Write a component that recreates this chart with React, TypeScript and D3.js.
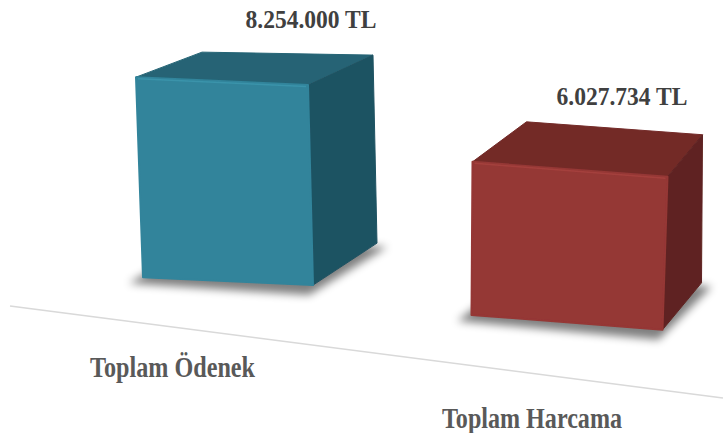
import React from "react";
import * as d3 from "d3";

const categories = ["Toplam Ödenek", "Toplam Harcama"];
const values = [8254000, 6027734];
const valueLabels = ["8.254.000 TL", "6.027.734 TL"];

const W = 723;
const H = 433;

// layout (positions/styles only)
const boxLayout = [
  { w: 170, k: 1.0, lift: 53, labelGap: 24, lean: [-7, -5], dTL: [66, -25], dTR: [65, -30], dBR: [64, -42], bs: 0.047,
    front: "#31849b", top: "#256475", side: "#1f5262", edge: "#3d97ae" },
  { w: 191, k: 1.048, lift: 55.5, labelGap: 17, lean: [1, 5], dTL: [54, -40], dTR: [35, -42], dBR: [39, -47], bs: 0.078,
    front: "#953735", top: "#732a28", side: "#5f2321", edge: "#a8433f" },
];

const floorY = (x: number) => 306 + (x - 10) * 0.129;

export default function App() {
  const xBox = d3.scalePoint<string>().domain(categories).range([228, 567]);
  const xLabel = d3.scalePoint<string>().domain(categories).range([172.5, 532]);
  const xValue = d3.scalePoint<string>().domain(categories).range([311, 622]);
  const yH = d3.scaleLinear().domain([0, d3.max(values) as number]).range([0, 200]);

  const fmt = (p: number[][]) => p.map((q) => q.join(",")).join(" ");

  return (
    <svg width={W} height={H} style={{ display: "block", position: "absolute", left: 0, top: 0 }}>
      <defs>
        <filter id="shadow" x="-30%" y="-30%" width="160%" height="160%">
          <feGaussianBlur stdDeviation="4" />
        </filter>
        <filter id="soft" x="-5%" y="-5%" width="110%" height="110%">
          <feGaussianBlur stdDeviation="0.6" />
        </filter>
      </defs>
      <rect width={W} height={H} fill="#fff" />
      <line x1={10} y1={floorY(10)} x2={W} y2={floorY(W)} stroke="#d9d9d9" strokeWidth={1.6} />
      {categories.map((c, i) => {
        const L = boxLayout[i];
        const cx = xBox(c) as number;
        const by = floorY(cx) - L.lift;
        const h = yH(values[i]) * L.k;
        const BL = [cx - L.w / 2, by - (L.bs * L.w) / 2];
        const BR = [cx + L.w / 2, by + (L.bs * L.w) / 2];
        const TL = [BL[0] + L.lean[0], BL[1] - h];
        const TR = [BR[0] + L.lean[1], BR[1] - h];
        const TLb = [TL[0] + L.dTL[0], TL[1] + L.dTL[1]];
        const TRb = [TR[0] + L.dTR[0], TR[1] + L.dTR[1]];
        const BRb = [BR[0] + L.dBR[0], BR[1] + L.dBR[1]];
        const BLb = [BL[0] + L.dTL[0], BL[1] + L.dBR[1]];
        const shadow = [
          [BL[0] - 14, BL[1] + 6],
          [BR[0] - 4, BR[1] + 10],
          [BRb[0] + 10, BRb[1] + 4],
          [BLb[0], BLb[1]],
        ];
        const labelY = Math.min(TLb[1], TRb[1]) - L.labelGap;
        return (
          <g key={c}>
            <polygon points={fmt(shadow)} fill="#000" opacity={0.5} filter="url(#shadow)" />
            <g filter="url(#soft)">
              <polygon points={fmt([TL, TR, TRb, TLb])} fill={L.top} stroke={L.top} strokeWidth={1} strokeLinejoin="round" />
              <polygon points={fmt([TR, BR, BRb, TRb])} fill={L.side} stroke={L.side} strokeWidth={1} strokeLinejoin="round" />
              <polygon points={fmt([TL, TR, BR, BL])} fill={L.front} stroke={L.front} strokeWidth={2} strokeLinejoin="round" />
              <line x1={TL[0] + 2} y1={TL[1] + 1.5} x2={TR[0] - 2} y2={TR[1] + 1.5} stroke={L.edge} strokeWidth={1.5} opacity={0.8} />
            </g>
            <text
              x={xValue(c) as number}
              y={labelY}
              textAnchor="middle"
              fontFamily="'Liberation Serif', 'Times New Roman', serif"
              fontWeight="bold"
              fontSize={26}
              fill="#404040"
              textLength={131}
              lengthAdjust="spacingAndGlyphs"
            >
              {valueLabels[i]}
            </text>
          </g>
        );
      })}
      {categories.map((c, i) => (
        <text
          key={c}
          x={xLabel(c) as number}
          y={i === 0 ? 377 : 428}
          textAnchor="middle"
          fontFamily="'Liberation Serif', 'Times New Roman', serif"
          fontWeight="bold"
          fontSize={29}
          fill="#595959"
          textLength={i === 0 ? 165 : 180}
          lengthAdjust="spacingAndGlyphs"
        >
          {c}
        </text>
      ))}
    </svg>
  );
}
